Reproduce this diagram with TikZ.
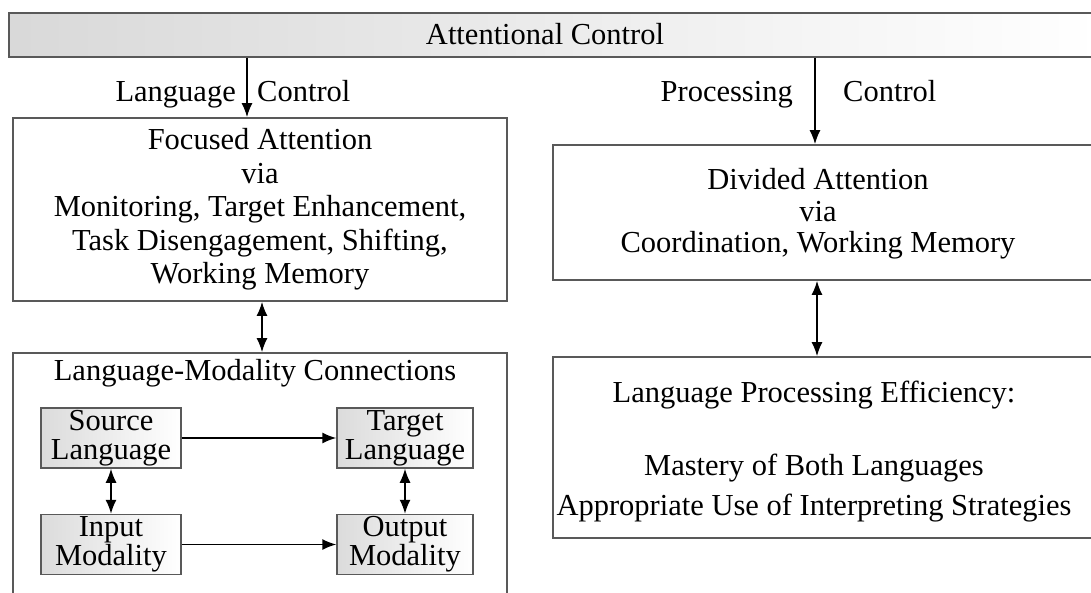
\documentclass[tikz,border=0pt]{standalone}
\usepackage{fontspec}
\setmainfont{Liberation Serif}
\usetikzlibrary{arrows.meta,positioning}

\begin{document}
\begin{tikzpicture}[x=1pt, y=-1pt,
        every node/.style={inner sep=0pt, font=\fontsize{30.5pt}{33.5pt}\selectfont},
        box/.style={draw=black!65, line width=1.7pt, minimum width=548pt},
        minibox/.style={draw=black!65, line width=1.5pt, left color=black!14, right color=white, align=center,
            font=\fontsize{30.5pt}{29pt}\selectfont, minimum width=140pt, minimum height=60pt},
        arr/.style={-{Latex[length=14pt,width=11pt]}, line width=1.5pt},
        darr/.style={{Latex[length=14pt,width=11pt]}-{Latex[length=14pt,width=11pt]}, line width=1.5pt}]
        \useasboundingbox (0,0) rectangle (1091,593);
        \clip (0,0) rectangle (1091,593);
        % top bar
        \node[box, left color=black!15, right color=white, minimum width=1092pt, minimum height=44pt] (ctrl) at (555,35) {};
        \node (ctrltext) at (545,34) {Attentional Control};
        % left column
        \node[box, minimum width=494pt, minimum height=183pt, align=center] (focus) at (260,209.5)
            {Focused Attention\\via\\Monitoring, Target Enhancement,\\Task Disengagement, Shifting,\\Working Memory};
        \node[box, minimum width=494pt, minimum height=267pt] (langmod) at (260,486.5) {};
        \node (lmtitle) at (255,373) {Language-Modality Connections};
        \node[minibox] (src) at (111,438) {Source\\Language};
        \node[minibox, minimum width=136pt] (tgt) at (405,438) {Target\\Language};
        \node[minibox] (inp) at (111,544.5) {Input\\Modality};
        \node[minibox, minimum width=136pt] (outp) at (405,544.5) {Output\\Modality};
        % right column
        \node[box, minimum height=135pt] (divided) at (827,212.5) {};
        \node[align=center, font=\fontsize{30.5pt}{31.5pt}\selectfont] (dvtext) at (818,214)
            {Divided Attention\\via\\Coordination, Working Memory};
        \node[box, minimum height=181pt] (lpe) at (827,447.5) {};
        \node[align=center] (lpetext) at (814,452)
            {Language Processing Efficiency:\\[39pt]Mastery of Both Languages\\[7pt]Appropriate Use of Interpreting Strategies};
        % connectors
        \coordinate (lc) at (247,0);
        \coordinate (rc) at (815,0);
        \coordinate (fc) at (262,0);
        \coordinate (dc) at (817,0);
        \draw[arr] (ctrl.south -| lc) -- (focus.north -| lc);
        \node[anchor=base east] (lglab) at (236,102) {Language};
        \node[anchor=base west] (lclab) at (257,102) {Control};
        \draw[arr] (ctrl.south -| rc) -- (divided.north -| rc);
        \node[anchor=base east] (prlab) at (793,102) {Processing};
        \node[anchor=base west] (prclab) at (843,102) {Control};
        \draw[darr] (focus.south -| fc) -- (langmod.north -| fc);
        \draw[darr] (divided.south -| dc) -- (lpe.north -| dc);
        \draw[arr] (src) -- (tgt);
        \draw[arr] (inp) -- (outp);
        \draw[darr] (src) -- (inp);
        \draw[darr] (tgt) -- (outp);
    \end{tikzpicture}
\end{document}
